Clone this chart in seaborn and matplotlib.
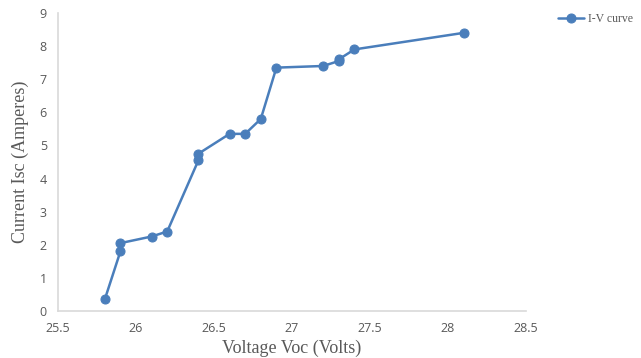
import numpy as np
import pandas as pd
import matplotlib
matplotlib.use("Agg")
import matplotlib.pyplot as plt
import seaborn as sns

# datos
voltage = [25.8, 25.9, 25.9, 26.1, 26.2, 26.4, 26.4, 26.6, 26.7, 26.8,
           26.9, 27.2, 27.3, 27.3, 27.4, 28.1]
current = [0.35, 1.8, 2.05, 2.25, 2.4, 4.55, 4.75, 5.35, 5.35, 5.8,
           7.35, 7.4, 7.55, 7.6, 7.9, 8.4]
x_ticks = [25.5, 26, 26.5, 27, 27.5, 28, 28.5]
x_tick_labels = ["25.5", "26", "26.5", "27", "27.5", "28", "28.5"]
y_ticks = list(range(0, 10))

df = pd.DataFrame({"Voltage": voltage, "Current": current})

sns.set_style("white")
blue = "#4a7ebb"

fig = plt.figure(figsize=(6.41, 3.58), dpi=100)
ax = fig.add_axes([58 / 641, 1 - 311 / 358, (526 - 58) / 641, (311 - 13) / 358])

# estimator=None para no promediar los puntos con el mismo voltaje
sns.lineplot(data=df, x="Voltage", y="Current", sort=False, estimator=None,
             ax=ax, color=blue, linewidth=1.8, marker="o", markersize=6.5,
             markeredgecolor=blue, label="I-V curve")

ax.set_xlim(25.5, 28.5)
ax.set_ylim(0, 9)
ax.set_xticks(x_ticks)
ax.set_xticklabels(x_tick_labels)
ax.set_yticks(y_ticks)
ax.tick_params(length=0, labelsize=9, labelcolor="#595959", pad=8)
for lbl in ax.get_xticklabels() + ax.get_yticklabels():
    lbl.set_family("Open Sans")

for side in ["top", "right"]:
    ax.spines[side].set_visible(False)
for side in ["left", "bottom"]:
    ax.spines[side].set_color("#d9d9d9")
    ax.spines[side].set_linewidth(1.2)

ax.set_xlabel("Voltage Voc (Volts)", family="Liberation Serif",
              fontsize=13, color="#595959", labelpad=3)
ax.set_ylabel("Current Isc (Amperes)", family="Liberation Serif",
              fontsize=13, color="#595959", labelpad=8)

leg = ax.legend(loc="upper left", bbox_to_anchor=(553 / 641, 1 - 8 / 358),
                bbox_transform=fig.transFigure, frameon=False,
                prop={"family": "Liberation Serif", "size": 8.5},
                handlelength=2.2, borderaxespad=0, handletextpad=0.4)
for t in leg.get_texts():
    t.set_color("#595959")

fig.savefig("out.png", dpi=100)
